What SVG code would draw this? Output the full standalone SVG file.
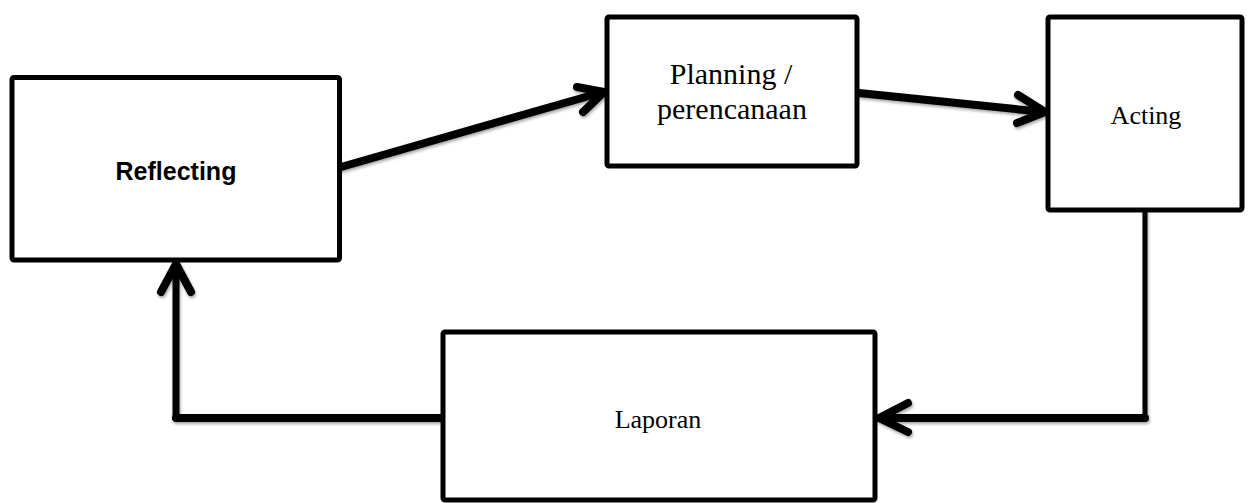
<svg xmlns="http://www.w3.org/2000/svg" width="1251" height="503" viewBox="0 0 1251 503">
<style>
.box{fill:#fff;stroke:#000;stroke-width:5;stroke-linejoin:round}
.conn{fill:none;stroke:#000;stroke-linecap:round;stroke-linejoin:round}
.serif{font-family:"Liberation Serif","Times New Roman",serif;fill:#000;text-anchor:middle}
.bold{font-family:"Liberation Sans",Arial,sans-serif;font-weight:bold;fill:#000;text-anchor:middle}
</style>
<defs>
<filter id="sh" x="-10%" y="-10%" width="120%" height="120%">
<feDropShadow dx="1" dy="2" stdDeviation="1.5" flood-color="#000" flood-opacity="0.35"/>
</filter>
</defs>
<rect width="1251" height="503" fill="#fff"/>
<g id="connectors" filter="url(#sh)">
<path class="conn" stroke-width="8" d="M341,167 L603,92"/>
<path class="conn" stroke-width="8" d="M577,87 L604,92 L583,112"/>
<path class="conn" stroke-width="8" d="M859,93 L1044,112"/>
<path class="conn" stroke-width="8" d="M1018,95 L1045,112 L1017,123"/>
<path class="conn" stroke-width="5" d="M1145,212 L1145,418"/>
<path class="conn" stroke-width="8" d="M1145,418 L880,418"/>
<path class="conn" stroke-width="8" d="M908,403 L879,418 L908,432"/>
<path class="conn" stroke-width="8" d="M443,418 L176,418"/>
<path class="conn" stroke-width="7" d="M176,418 L176,265"/>
<path class="conn" stroke-width="8" d="M161,292 L176,264 L191,292"/>
</g>
<g id="node-reflecting">
<rect class="box" x="12" y="77.5" width="327.5" height="182.5" rx="2"/>
<text class="bold" x="176" y="180" font-size="25">Reflecting</text>
</g>
<g id="node-planning">
<rect class="box" x="607" y="17" width="250" height="149" rx="2"/>
<text class="serif" x="731" y="84" font-size="30">Planning /</text>
<text class="serif" x="732" y="119" font-size="30">perencanaan</text>
</g>
<g id="node-acting">
<rect class="box" x="1048" y="17" width="194" height="193" rx="2"/>
<text class="serif" x="1146" y="124" font-size="26">Acting</text>
</g>
<g id="node-laporan">
<rect class="box" x="443" y="332" width="432" height="168" rx="2"/>
<text class="serif" x="658" y="428" font-size="26">Laporan</text>
</g>
</svg>
